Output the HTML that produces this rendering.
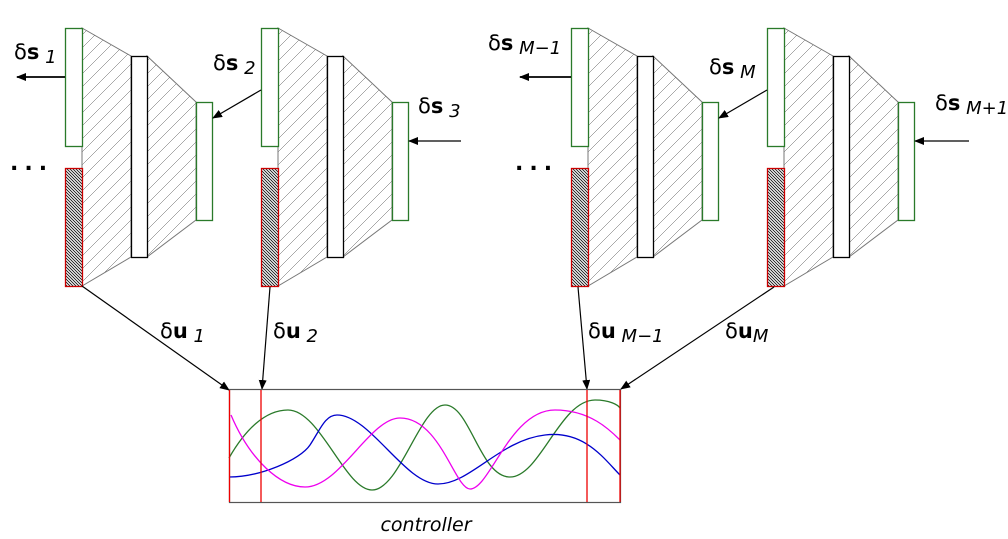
<!DOCTYPE html>
<html><head><style>body{margin:0;background:#fff}svg{display:block}text{font-family:"DejaVu Sans","Liberation Sans",sans-serif}</style></head>
<body>
<svg width="1008" height="539" viewBox="0 0 1008 539">
<defs>
<pattern id="h" width="13" height="13" patternUnits="userSpaceOnUse"><path d="M0 13L13 0M-2 2L2 -2M11 15L15 11" stroke="#555" stroke-width="0.5"/></pattern>
<pattern id="d" width="3" height="3" patternUnits="userSpaceOnUse"><rect width="3" height="3" fill="#fff"/><path d="M0 0L3 3M-1 2L1 4M2 -1L4 1" stroke="#111" stroke-width="0.9"/></pattern>
<marker id="a" markerWidth="10" markerHeight="8" refX="9" refY="4" orient="auto" markerUnits="userSpaceOnUse"><path d="M0 0L10 4L0 8z" fill="#000"/></marker>
<g id="blk">
<path d="M82 28L131 56L131 257L82 286Z" fill="url(#h)" stroke="#777" stroke-width="1"/>
<path d="M147 56L196 102L196 220L147 257Z" fill="url(#h)" stroke="#777" stroke-width="1"/>
<rect x="65.5" y="28.5" width="17" height="118" fill="#fff" stroke="#2a7a2a" stroke-width="1.3"/>
<rect x="65.5" y="168.5" width="17" height="118" fill="url(#d)" stroke="#c00" stroke-width="1.3"/>
<rect x="131.5" y="56.5" width="16" height="201" fill="#fff" stroke="#000" stroke-width="1.3"/>
<rect x="196.5" y="102.5" width="16" height="118" fill="#fff" stroke="#2a7a2a" stroke-width="1.3"/>
</g>
</defs>
<use href="#blk"/>
<use href="#blk" x="196"/>
<use href="#blk" x="506"/>
<use href="#blk" x="702"/>
<g stroke="#000" stroke-width="1.2" fill="none" marker-end="url(#a)">
<line x1="65" y1="77" x2="17" y2="77" stroke-width="1.8"/>
<line x1="261" y1="90" x2="213" y2="118"/>
<line x1="461" y1="141" x2="409" y2="141"/>
<line x1="571" y1="77" x2="520" y2="77" stroke-width="1.8"/>
<line x1="767" y1="90" x2="719" y2="118"/>
<line x1="969" y1="141" x2="915" y2="141"/>
<line x1="82" y1="286" x2="229" y2="390"/>
<line x1="270" y1="287" x2="262" y2="389"/>
<line x1="578" y1="287" x2="587" y2="389"/>
<line x1="774" y1="287" x2="621" y2="389"/>
</g>
<g font-size="22" fill="#000">
<text x="10" y="170" font-weight="bold" letter-spacing="6">...</text>
<text x="515" y="170" font-weight="bold" letter-spacing="6">...</text>
</g>
<g font-size="21">
<text x="14" y="59">δ<tspan font-weight="bold">s</tspan><tspan font-style="italic" font-size="18" dy="4"> 1</tspan></text>
<text x="213" y="70">δ<tspan font-weight="bold">s</tspan><tspan font-style="italic" font-size="18" dy="4"> 2</tspan></text>
<text x="418" y="113">δ<tspan font-weight="bold">s</tspan><tspan font-style="italic" font-size="18" dy="4"> 3</tspan></text>
<text x="488" y="50">δ<tspan font-weight="bold">s</tspan><tspan font-style="italic" font-size="18" dy="4"> M−1</tspan></text>
<text x="709" y="74">δ<tspan font-weight="bold">s</tspan><tspan font-style="italic" font-size="18" dy="4"> M</tspan></text>
<text x="935" y="110">δ<tspan font-weight="bold">s</tspan><tspan font-style="italic" font-size="18" dy="4"> M+1</tspan></text>
<text x="160" y="338">δ<tspan font-weight="bold">u</tspan><tspan font-style="italic" font-size="18" dy="4"> 1</tspan></text>
<text x="273" y="338">δ<tspan font-weight="bold">u</tspan><tspan font-style="italic" font-size="18" dy="4"> 2</tspan></text>
<text x="588" y="338">δ<tspan font-weight="bold">u</tspan><tspan font-style="italic" font-size="18" dy="4"> M−1</tspan></text>
<text x="725" y="338">δ<tspan font-weight="bold">u</tspan><tspan font-style="italic" font-size="18" dy="4">M</tspan></text>
</g>
<rect x="229.5" y="389.5" width="391" height="113" fill="#fff" stroke="#555" stroke-width="1.2"/>
<g fill="none" stroke-width="1.3">
<path d="M229 458C245 430 265 410 288 410C320 410 345 490 372 490C400 490 420 405 445 405C470 405 480 477 510 477C540 477 560 400 595 400C610 400 618 405 620 408" stroke="#2a7a2a"/>
<path d="M229 477C260 477 300 460 310 445C320 430 325 415 337 415C370 415 405 484 438 484C470 484 500 440 545 435C585 430 605 460 620 475" stroke="#00c"/>
<path d="M231 415C250 460 280 487 305 487C340 487 370 418 400 418C440 418 455 489 470 489C490 489 510 410 555 410C590 410 610 430 620 440" stroke="#e0e"/>
</g>
<g stroke="#e00" stroke-width="1.3">
<line x1="229.5" y1="390" x2="229.5" y2="502"/><line x1="261" y1="390" x2="261" y2="502"/>
<line x1="587" y1="390" x2="587" y2="502"/><line x1="620" y1="390" x2="620" y2="502"/>
</g>
<text x="426" y="531" font-size="19" font-style="italic" text-anchor="middle">controller</text>
</svg>
</body></html>
